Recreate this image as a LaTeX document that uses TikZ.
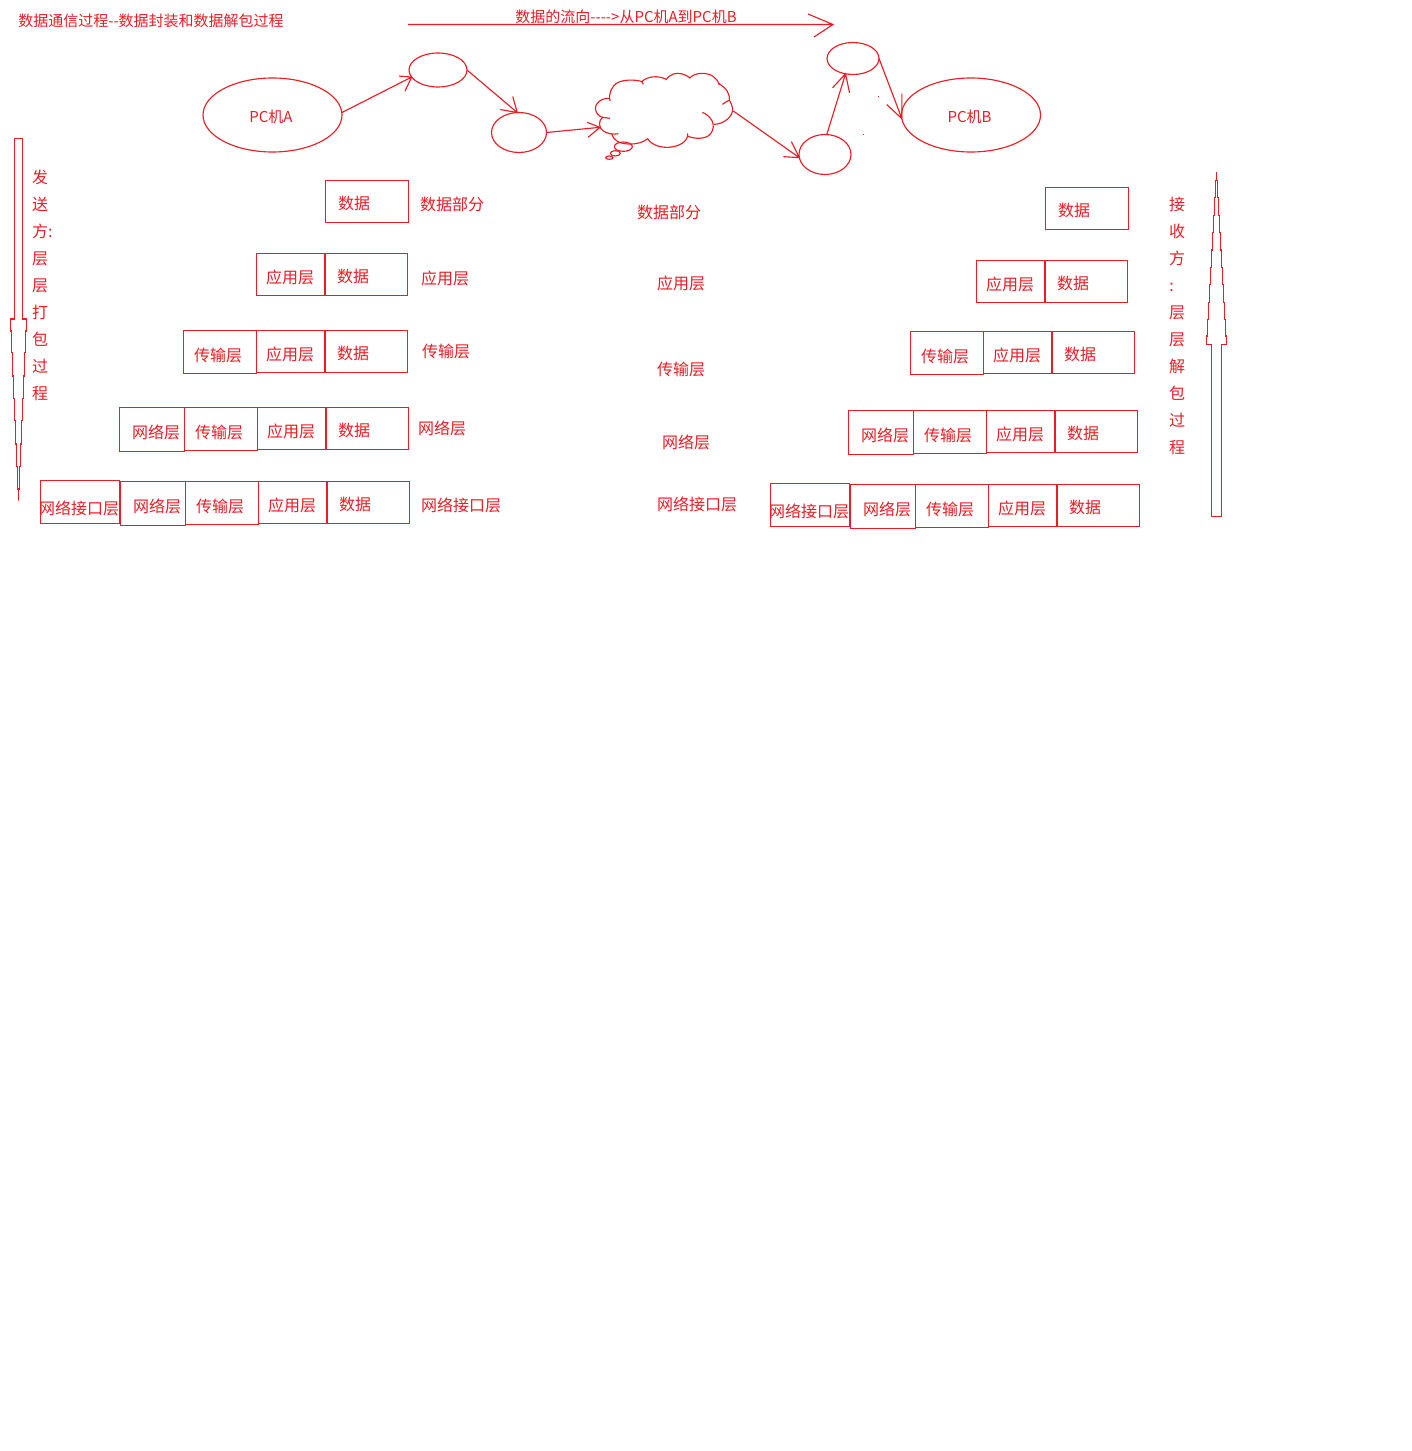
\documentclass[tikz,border=0pt]{standalone}
\usepackage{fontspec}
\setmainfont{Noto Sans CJK SC}
\usetikzlibrary{shapes.geometric}
\definecolor{pen}{HTML}{ED1C24}
\tikzset{
  ink/.style={draw=pen,line width=.85pt,line join=miter},
  boxst/.style={ink,rectangle,inner sep=0pt,outer sep=0pt},
  ell/.style={ink,ellipse,inner sep=0pt,outer sep=0pt},
  txt/.style={text=pen,inner sep=0pt,outer sep=0pt,font=\fontsize{12}{14}\selectfont,text height=10.8pt,text depth=1.2pt},
  small/.style={txt,font=\fontsize{11.25}{13}\selectfont}
}
\newcommand{\bx}[8]{%
  \pgfmathsetmacro{\bw}{(#4-#2)*.75}\pgfmathsetmacro{\bh}{(#5-#3)*.75}%
  \pgfmathsetmacro{\bcx}{(#2+#4)/2}\pgfmathsetmacro{\bcy}{(#3+#5)/2}%
  \node[boxst,minimum width=\bw pt,minimum height=\bh pt] (#1) at (\bcx,\bcy) {};
  \node[txt] (#1t) at (#6,#7) {#8};
}
% connector with a hand-drawn open head: from, to, first barb offset, second barb offset
\newcommand{\conn}[4]{\draw[ink] (#1) -- (#2) ++(#3) -- (#2) -- +(#4);}
\begin{document}
\begin{tikzpicture}[x=.75pt,y=-.75pt]
\useasboundingbox (0,0) rectangle (1411,1451);
\fill[white] (0,0) rectangle (1411,1451);
% titles
\node[small] (title) at (151,20) {数据通信过程{-}{-}数据封装和数据解包过程};
\node[small] (flow) at (626,16) {数据的流向{-}{-}{-}{-}>从PC机A到PC机B};
\coordinate (flowstart) at (408,24.5);
\coordinate (flowend) at (833,24.5);
\conn{flowstart}{flowend}{-25,-10.5}{-19,12.5}
% network
\node[ell,minimum width=104.25pt,minimum height=55.5pt] (pca) at (272.5,115) {};
\node[small] (pcat) at (271,116) {PC机A};
\node[ell,minimum width=43.5pt,minimum height=25.5pt] (e1) at (438,70) {};
\node[ell,minimum width=41.25pt,minimum height=30pt] (e2) at (519,132.5) {};
\node[ell,minimum width=39pt,minimum height=30pt] (e3) at (825,154.5) {};
\node[ell,minimum width=39pt,minimum height=24pt] (e4) at (853,58.5) {};
\node[ell,minimum width=104.25pt,minimum height=55.5pt] (pcb) at (971,115) {};
\node[small] (pcbt) at (969.5,116) {PC机B};
% cloud
\begin{scope}[shift={(590,65)},x=.25pt,y=-.25pt]
\draw[ink] (60,160) -- (38,157) .. controls (25,165) and (25,190) .. (40,198) .. controls (50,205) and (70,210) .. (85,206);
\draw[ink] (65,208) .. controls (72,225) and (85,236) .. (115,237) .. controls (140,238) and (160,232) .. (172,222);
\draw[ink] (172,220) .. controls (185,240) and (210,248) .. (235,247) .. controls (265,245) and (295,232) .. (293,205);
\draw[ink] (292,213) .. controls (315,223) and (345,222) .. (358,210) .. controls (375,195) and (378,160) .. (337,142);
\draw[ink] (372,178) .. controls (400,178) and (430,155) .. (428,130) .. controls (427,120) and (420,110) .. (418,105) -- (397,118);
\draw[ink] (418,108) .. controls (420,85) and (410,70) .. (385,55);
\draw[ink] (388,60) .. controls (380,35) and (360,25) .. (335,25) .. controls (320,25) and (305,32) .. (298,40);
\draw[ink] (299,38) .. controls (285,27) and (265,22) .. (250,27) .. controls (240,30) and (232,38) .. (227,45);
\draw[ink] (227,42) .. controls (205,32) and (175,32) .. (155,50) -- (160,58);
\draw[ink] (157,50) .. controls (130,42) and (100,45) .. (85,52) .. controls (65,62) and (55,85) .. (60,108);
\draw[ink] (60,100) .. controls (35,98) and (15,115) .. (16,130) .. controls (17,145) and (28,155) .. (38,157);
\draw[ink] (100,245) ellipse [x radius=27,y radius=14];
\draw[ink] (76,265) ellipse [x radius=15,y radius=8];
\draw[ink] (58,278) ellipse [x radius=11,y radius=5];
\coordinate (cloudin) at (30,187);
\coordinate (cloudout) at (430,138);
\end{scope}
% connectors
\conn{pca.2}{e1.195}{-12.6,-1}{-6.6,14}
\conn{e1.east}{e2.95}{-4.5,-16}{-17,-3}
\conn{e2.east}{cloudin}{-13,-5}{-12,10}
\conn{cloudout}{e3.187}{-8,-16}{-16,-1}
\conn{e3.85}{e4.244}{-13,14}{4,19}
\conn{e4.east}{pcb.183}{0,-25}{-15,-14}
\fill[pen] (878.3,96.3) rectangle (879.3,97.3);
\fill[pen] (863,133.7) rectangle (864,134.7);
% left stack
\bx{la1}{325.5}{180.5}{408.5}{222.5}{354}{203}{数据}
\node[txt] (ll1) at (452,204) {数据部分};
\bx{lb1}{256.5}{253.5}{325}{295.5}{290}{277}{应用层}
\bx{lb2}{325.5}{253.5}{407.5}{295.5}{353}{276}{数据}
\node[txt] (ll2) at (445,278) {应用层};
\bx{lc1}{183.5}{330.5}{256.5}{373.5}{218}{355}{传输层}
\bx{lc2}{256.5}{330.5}{325}{372.5}{290}{354}{应用层}
\bx{lc3}{325.5}{330.5}{407.5}{372.5}{353}{353}{数据}
\node[txt] (ll3) at (446,351) {传输层};
\bx{ld1}{119.5}{407.5}{184.5}{451.5}{156}{432}{网络层}
\bx{ld2}{184.5}{407.5}{257.5}{450.5}{219}{432}{传输层}
\bx{ld3}{257.5}{407.5}{326}{449.5}{291}{431}{应用层}
\bx{ld4}{326.5}{407.5}{408.5}{449.5}{354}{430}{数据}
\node[txt] (ll4) at (442,428) {网络层};
\bx{le1}{40.5}{480.5}{119.5}{523.5}{79}{508}{网络接口层}
\bx{le2}{120.5}{481.5}{185.5}{525.5}{157}{506}{网络层}
\bx{le3}{185.5}{481.5}{258.5}{524.5}{220}{506}{传输层}
\bx{le4}{258.5}{481.5}{327}{523.5}{292}{505}{应用层}
\bx{le5}{327.5}{481.5}{409.5}{523.5}{355}{504}{数据}
\node[txt] (ll5) at (461,505) {网络接口层};
% right stack
\bx{ra1}{1045.5}{187.5}{1128.5}{229.5}{1074}{210}{数据}
\node[txt] (rl1) at (669,212) {数据部分};
\bx{rb1}{976.5}{260.5}{1044.5}{302.5}{1010}{284}{应用层}
\bx{rb2}{1045.5}{260.5}{1127.5}{302.5}{1073}{283}{数据}
\node[txt] (rl2) at (681,283) {应用层};
\bx{rc1}{910.5}{331.5}{983.5}{374.5}{945}{356}{传输层}
\bx{rc2}{983.5}{331.5}{1052}{373.5}{1017}{355}{应用层}
\bx{rc3}{1052.5}{331.5}{1134.5}{373.5}{1080}{354}{数据}
\node[txt] (rl3) at (681,369) {传输层};
\bx{rd1}{848.5}{410.5}{913.5}{454.5}{885}{435}{网络层}
\bx{rd2}{913.5}{410.5}{986.5}{453.5}{948}{435}{传输层}
\bx{rd3}{986.5}{410.5}{1055}{452.5}{1020}{434}{应用层}
\bx{rd4}{1055.5}{410.5}{1137.5}{452.5}{1083}{433}{数据}
\node[txt] (rl4) at (686,442) {网络层};
\bx{re1}{770.5}{483.5}{849.5}{526.5}{809}{511}{网络接口层}
\bx{re2}{850.5}{484.5}{915.5}{528.5}{887}{509}{网络层}
\bx{re3}{915.5}{484.5}{988.5}{527.5}{950}{509}{传输层}
\bx{re4}{988.5}{484.5}{1057}{526.5}{1022}{508}{应用层}
\bx{re5}{1057.5}{484.5}{1139.5}{526.5}{1085}{507}{数据}
\node[txt] (rl5) at (697,504) {网络接口层};
% sender text
\node[txt,anchor=west] (s1) at (32,177.5) {发};
\node[txt,anchor=west] (s2) at (32,204.5) {送};
\node[txt,anchor=west] (s3) at (32,231.5) {方:};
\node[txt,anchor=west] (s4) at (32,258.5) {层};
\node[txt,anchor=west] (s5) at (32,285.5) {层};
\node[txt,anchor=west] (s6) at (32,312.5) {打};
\node[txt,anchor=west] (s7) at (32,339.5) {包};
\node[txt,anchor=west] (s8) at (32,366.5) {过};
\node[txt,anchor=west] (s9) at (32,393.5) {程};
% receiver text
\node[txt] (r1) at (1177,204.5) {接};
\node[txt] (r2) at (1177,231.5) {收};
\node[txt] (r3) at (1177,258.5) {方};
\node[txt] (r4) at (1171.5,285.5) {:};
\node[txt] (r5) at (1177,312.5) {层};
\node[txt] (r6) at (1177,339.5) {层};
\node[txt] (r7) at (1177,366.5) {解};
\node[txt] (r8) at (1177,393.5) {包};
\node[txt] (r9) at (1177,420.5) {过};
\node[txt] (r10) at (1177,447.5) {程};
% sender arrow
\draw[ink] (14.5,138.5) -- (22.5,138.5) -- (22.5,319) -- (26.5,319) -- (26.5,331) -- (25.5,331) -- (25.5,352.7) -- (24.5,352.7) -- (24.5,376) -- (23.5,376) -- (23.5,398.3) -- (22.5,398.3) -- (22.5,420.7) -- (21.5,420.7) -- (21.5,444) -- (20.5,444) -- (20.5,466.7) -- (19.5,466.7) -- (19.5,489) -- (18.5,489) -- (18.5,500.7) -- (18.5,489) -- (17.5,489) -- (17.5,466.7) -- (16.5,466.7) -- (16.5,444) -- (15.5,444) -- (15.5,420.7) -- (14.5,420.7) -- (14.5,398.3) -- (13.5,398.3) -- (13.5,376) -- (12.5,376) -- (12.5,352.7) -- (11.5,352.7) -- (11.5,331) -- (10.5,331) -- (10.5,319) -- (14.5,319) -- cycle;
% receiver arrow
\draw[ink] (1216.5,172.3) -- (1216.5,180.7) -- (1217.5,180.7) -- (1217.5,197.7) -- (1218.5,197.7) -- (1218.5,215.7) -- (1219.5,215.7) -- (1219.5,232.7) -- (1220.5,232.7) -- (1220.5,250) -- (1221.5,250) -- (1221.5,267.3) -- (1222.5,267.3) -- (1222.5,284.3) -- (1223.5,284.3) -- (1223.5,302.3) -- (1224.5,302.3) -- (1224.5,319.3) -- (1225.5,319.3) -- (1225.5,336) -- (1226.5,336) -- (1226.5,344.3) -- (1221.5,344.3) -- (1221.5,516.5) -- (1211.5,516.5) -- (1211.5,344.3) -- (1206.5,344.3) -- (1206.5,336) -- (1207.5,336) -- (1207.5,319.3) -- (1208.5,319.3) -- (1208.5,302.3) -- (1209.5,302.3) -- (1209.5,284.3) -- (1210.5,284.3) -- (1210.5,267.3) -- (1211.5,267.3) -- (1211.5,250) -- (1212.5,250) -- (1212.5,232.7) -- (1213.5,232.7) -- (1213.5,215.7) -- (1214.5,215.7) -- (1214.5,197.7) -- (1215.5,197.7) -- (1215.5,180.7) -- (1216.5,180.7);
\end{tikzpicture}
\end{document}
